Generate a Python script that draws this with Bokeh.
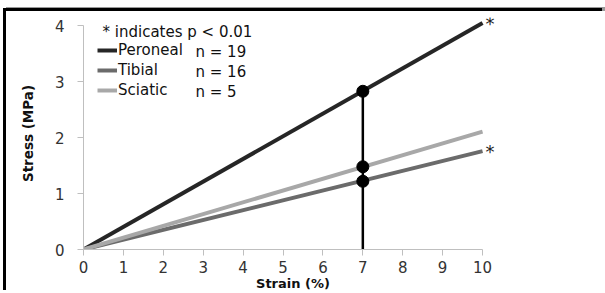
from bokeh.plotting import figure
from bokeh.models import Range1d, Legend, LegendItem, Label, FixedTicker
from bokeh.core.properties import value
from bokeh.embed import file_html
from bokeh.resources import INLINE

# ---- data ----
strain = [0, 10]
peroneal = [0, 4.05]
tibial = [0, 1.76]
sciatic = [0, 2.11]
names = ["Peroneal", "Tibial", "Sciatic"]
n_values = ["n = 19", "n = 16", "n = 5"]
mark_strain = [7, 7, 7]
mark_stress = [2.83, 1.48, 1.22]
star_strain = [10, 10]
star_stress = [4.05, 1.76]
x_ticks = [0, 1, 2, 3, 4, 5, 6, 7, 8, 9, 10]
y_ticks = [0, 1, 2, 3, 4]

colors = ["#262626", "#6b6b6b", "#a8a8a8"]
FONT = "DejaVu Sans"

p = figure(width=599, height=282, output_backend="svg", toolbar_location=None,
           x_range=Range1d(0, 10.5), y_range=Range1d(0, 4.15),
           min_border_left=77, min_border_right=103, min_border_top=6, min_border_bottom=43)
p.styles = {"position": "absolute", "left": "6px", "top": "11px",
            "box-shadow": "-3px -3px 0px 0px #000000, 0px -4px 0px 0px #999999"}
p.outline_line_color = None
p.xgrid.grid_line_color = None
p.ygrid.grid_line_color = None

r_per = p.line(strain, peroneal, line_color=colors[0], line_width=4)
r_tib = p.line(strain, tibial, line_color=colors[1], line_width=4)
r_sci = p.line(strain, sciatic, line_color=colors[2], line_width=4)

p.line([mark_strain[0], mark_strain[0]], [0, mark_stress[0]], line_color="black", line_width=2.5)
p.scatter(mark_strain, mark_stress, size=12, color="black")

p.text(star_strain, star_stress, text=["*", "*"], x_offset=3, y_offset=0,
       text_font=value(FONT), text_font_size="18px", text_color="#222222",
       text_align="left", text_baseline="middle")

for ax in (p.xaxis[0], p.yaxis[0]):
    ax.axis_line_color = "#bfbfbf"
    ax.major_tick_line_color = "#bfbfbf"
    ax.major_tick_out = 6
    ax.major_tick_in = 0
    ax.minor_tick_line_color = None
    ax.major_label_text_font = FONT
    ax.major_label_text_font_size = "15px"
    ax.major_label_text_color = "#333333"
    ax.axis_label_text_font = FONT
    ax.axis_label_text_font_style = "bold"
    ax.axis_label_text_font_size = "13px"
    ax.axis_label_text_color = "#111111"

p.xaxis.ticker = FixedTicker(ticks=x_ticks)
p.yaxis.ticker = FixedTicker(ticks=y_ticks)
p.xaxis.bounds = (0, 10)
p.yaxis.bounds = (0, 4)
p.xaxis.axis_label = "Strain (%)"
p.yaxis.axis_label = "Stress (MPa)"
p.xaxis.major_label_standoff = 5
p.xaxis.axis_label_standoff = 0
p.yaxis.major_label_standoff = 13
p.yaxis.axis_label_standoff = 16
p.yaxis.axis_label_text_font_size = "13.5px"

legend = Legend(items=[LegendItem(label=names[0], renderers=[r_per]),
                       LegendItem(label=names[1], renderers=[r_tib]),
                       LegendItem(label=names[2], renderers=[r_sci])],
                location=(14, 149), padding=0, margin=0, spacing=0,
                glyph_width=20, glyph_height=20, label_height=20, label_standoff=1,
                border_line_color=None, background_fill_alpha=0,
                label_text_font=FONT, label_text_font_size="15px", label_text_color="#111111")
p.add_layout(legend)

for i, txt in enumerate(n_values):
    p.add_layout(Label(x=112, y=198 - 20 * i, x_units="screen", y_units="screen", text=txt,
                       text_font=FONT, text_font_size="15px", text_color="#111111",
                       text_baseline="middle"))
p.add_layout(Label(x=19, y=218, x_units="screen", y_units="screen", text="* indicates p < 0.01",
                   text_font=FONT, text_font_size="15px", text_color="#111111",
                   text_baseline="middle"))

open("out.html", "w").write(file_html(p, INLINE))
